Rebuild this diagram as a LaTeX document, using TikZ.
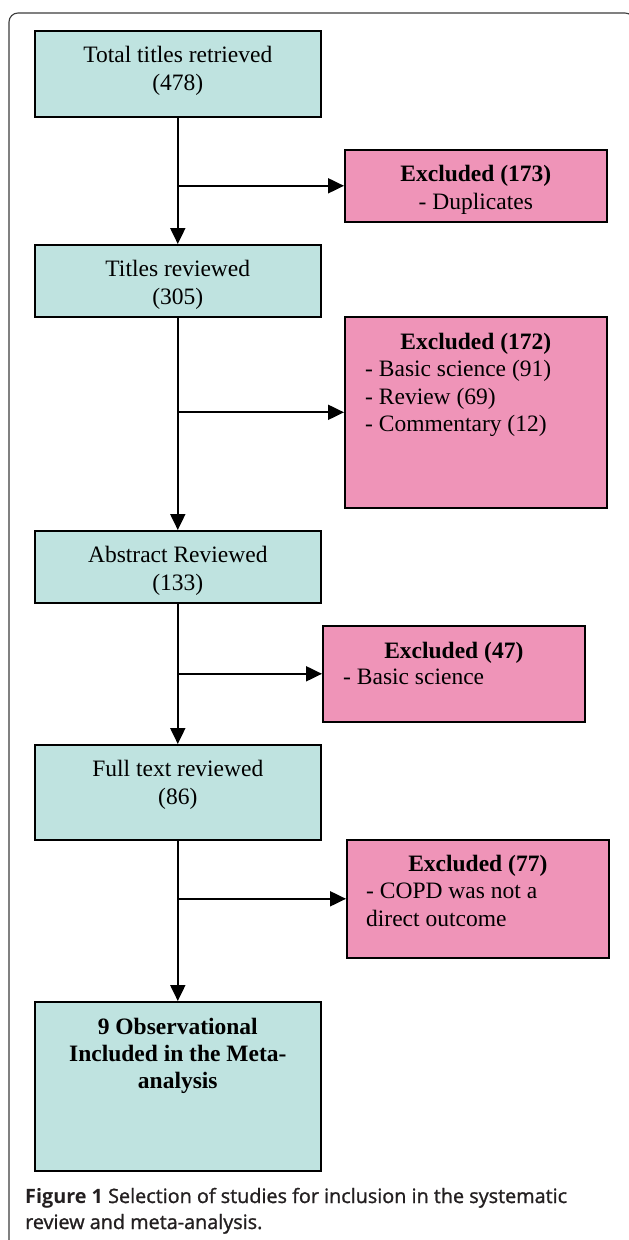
\documentclass[tikz,border=0pt]{standalone}
\usepackage{fontspec}
\setmainfont{Liberation Serif}
\newfontfamily\capfont{Open Sans}
\newfontfamily\capmed{Open Sans}[FakeBold=1.2]
\usetikzlibrary{arrows.meta,calc}
\definecolor{tealfill}{RGB}{191,227,224}
\definecolor{pinkfill}{RGB}{239,148,184}
\definecolor{framecol}{RGB}{60,60,60}
\definecolor{captext}{RGB}{35,31,32}
\tikzset{
  x=1pt, y=-1pt,
  tealbox/.style={draw=black, line width=1.6pt, fill=tealfill, anchor=north west, inner sep=0pt},
  pinkbox/.style={draw=black, line width=1.6pt, fill=pinkfill, anchor=north west, inner sep=0pt},
  boxtext/.style={font=\fontsize{23.5}{27.7}\selectfont, inner sep=0pt, anchor=north},
  listtext/.style={font=\fontsize{23.5}{27.5}\selectfont, inner sep=0pt, anchor=north west, align=left},
  flow/.style={line width=2pt, -{Triangle[length=16pt,width=15pt]}},
  branch/.style={line width=2pt, -{Triangle[length=16pt,width=15pt]}},
}
\begin{document}
\begin{tikzpicture}
\useasboundingbox (0,0) rectangle (629,1240);
\clip (0,0) rectangle (629,1240);
\fill[white] (0,0) rectangle (629,1240);
\draw[framecol, line width=1.1pt, rounded corners=9pt] (9,13) rectangle (634,1260);

% main column boxes
\node[tealbox, minimum width=286pt, minimum height=86pt] (b1) at (34,30) {};
\node[tealbox, minimum width=286pt, minimum height=72pt] (b2) at (34,244) {};
\node[tealbox, minimum width=286pt, minimum height=72pt] (b3) at (34,530) {};
\node[tealbox, minimum width=286pt, minimum height=95pt] (b4) at (34,744) {};
\node[tealbox, minimum width=286pt, minimum height=169pt] (b5) at (34,1001) {};

% exclusion boxes
\node[pinkbox, minimum width=262pt, minimum height=72pt] (e1) at (344,149) {};
\node[pinkbox, minimum width=262pt, minimum height=191pt] (e2) at (344,316) {};
\node[pinkbox, minimum width=262pt, minimum height=96pt] (e3) at (322,625) {};
\node[pinkbox, minimum width=262pt, minimum height=118pt] (e4) at (346,839) {};

% texts
\node[boxtext, align=center] (t1) at ($(b1.north)+(0,16)$) {Total titles retrieved\\(478)};
\node[boxtext, align=center] (t2) at ($(b2.north)+(0,16)$) {Titles reviewed\\(305)};
\node[boxtext, align=center] (t3) at ($(b3.north)+(0,16)$) {Abstract Reviewed\\(133)};
\node[boxtext, align=center] (t4) at ($(b4.north)+(0,16)$) {Full text reviewed\\(86)};
\node[boxtext, align=center, font=\fontsize{23.5}{27}\selectfont\bfseries] (t5) at ($(b5.north)+(0,17)$) {9 Observational\\Included in the Meta-\\analysis};

\node[boxtext, align=center] (x1) at ($(e1.north)+(0,16)$) {\textbf{Excluded (173)}\\- Duplicates};
\node[boxtext, font=\fontsize{23.5}{27.5}\selectfont\bfseries] (x2h) at ($(e2.north)+(0,17)$) {Excluded (172)};
\node[listtext] (x2l) at ($(e2.north west)+(21,44)$) {- Basic science (91)\\- Review (69)\\- Commentary (12)};
\node[boxtext, font=\fontsize{23.5}{27.5}\selectfont\bfseries] (x3h) at ($(e3.north)+(0,17)$) {Excluded (47)};
\node[listtext] (x3l) at ($(e3.north west)+(21,44)$) {- Basic science};
\node[boxtext, font=\fontsize{23.5}{27.5}\selectfont\bfseries] (x4h) at ($(e4.north)+(0,16)$) {Excluded (77)};
\node[listtext] (x4l) at ($(e4.north west)+(20,44)$) {- COPD was not a\\direct outcome};

% connectors
\draw[flow] (b1.south) -- (b2.north);
\draw[flow] (b2.south) -- (b3.north);
\draw[flow] (b3.south) -- (b4.north);
\draw[flow] (b4.south) -- (b5.north);
\coordinate (j1) at (b1.south |- e1.west);
\coordinate (j2) at (b2.south |- e2.west);
\coordinate (j3) at (b3.south |- e3.west);
\coordinate (j4) at (b4.south |- e4.west);
\draw[branch] (j1) -- (e1.west);
\draw[branch] (j2) -- (e2.west);
\draw[branch] (j3) -- (e3.west);
\draw[branch] (j4) -- (e4.west);

% caption (anchor base = last line baseline)
\node[anchor=base west, inner sep=0pt, align=left, text=captext, font=\fontsize{19.8}{26}\selectfont\capmed] (cap) at (25,1229)
  {{\capfont\bfseries Figure 1} Selection of studies for inclusion in the systematic\\review and meta-analysis.};
\end{tikzpicture}
\end{document}
